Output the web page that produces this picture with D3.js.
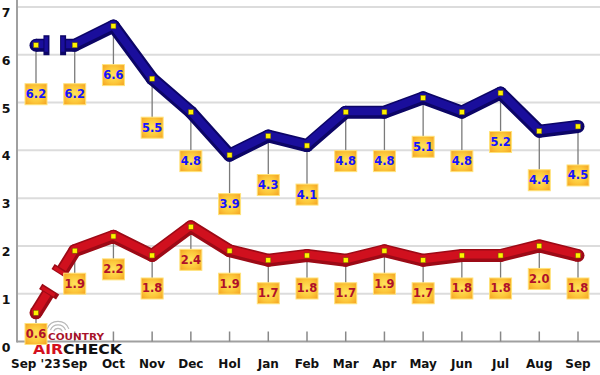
<!DOCTYPE html>
<html>
<head>
<meta charset="utf-8">
<script src="https://cdn.jsdelivr.net/npm/d3@7"></script>
<style>
  body { margin: 0; background: #fff; }
  svg { display: block; }
  .axis-label { font-family: "DejaVu Sans", sans-serif; font-weight: bold; fill: #111; }
  .val { font-family: "DejaVu Sans", sans-serif; font-weight: bold; font-size: 11.5px; }
</style>
</head>
<body>
<div id="chart"></div>
<script>
// months on the x axis
var months = ["Sep '23", "Sep", "Oct", "Nov", "Dec", "Hol", "Jan", "Feb", "Mar", "Apr", "May", "Jun", "Jul", "Aug", "Sep"];
// upper (blue) series
var blueValues = [6.2, 6.2, 6.6, 5.5, 4.8, 3.9, 4.3, 4.1, 4.8, 4.8, 5.1, 4.8, 5.2, 4.4, 4.5];
// lower (red) series
var redValues = [0.6, 1.9, 2.2, 1.8, 2.4, 1.9, 1.7, 1.8, 1.7, 1.9, 1.7, 1.8, 1.8, 2.0, 1.8];
// y axis ticks
var yTicks = [0, 1, 2, 3, 4, 5, 6, 7];

var width = 600, height = 375;

var svg = d3.select("#chart").append("svg")
  .attr("width", width)
  .attr("height", height);

var defs = svg.append("defs");
var grad = defs.append("radialGradient").attr("id", "boxGrad")
  .attr("cx", "50%").attr("cy", "50%").attr("r", "70%");
grad.append("stop").attr("offset", "0%").attr("stop-color", "#ffe45c");
grad.append("stop").attr("offset", "55%").attr("stop-color", "#fcc73a");
grad.append("stop").attr("offset", "100%").attr("stop-color", "#f4a020");

// Scales
var x = d3.scalePoint()
  .domain(d3.range(months.length))
  .range([36, 578]);

var y = d3.scaleLinear()
  .domain([0, 7])
  .range([341.5, 7]);

var axisX = 17;

// Gridlines
svg.append("g").selectAll("line")
  .data(yTicks.filter(function(d){ return d > 0; }))
  .enter().append("line")
  .attr("x1", axisX).attr("x2", width)
  .attr("y1", function(d){ return y(d); })
  .attr("y2", function(d){ return y(d); })
  .attr("stroke", "#dcdcdc")
  .attr("stroke-width", 2);

// y labels (sit a little below their gridline, as in the original)
svg.append("g").selectAll("text")
  .data(yTicks)
  .enter().append("text")
  .attr("class", "axis-label")
  .attr("x", 6)
  .attr("y", function(d){ return y(d) + 10; })
  .attr("text-anchor", "middle")
  .attr("font-size", 12.5)
  .text(function(d){ return d; });

// Axes lines
svg.append("line")
  .attr("x1", axisX).attr("x2", axisX)
  .attr("y1", 0).attr("y2", y(0) + 1)
  .attr("stroke", "#a0a0a0").attr("stroke-width", 2);
svg.append("line")
  .attr("x1", axisX).attr("x2", width)
  .attr("y1", y(0)).attr("y2", y(0))
  .attr("stroke", "#a0a0a0").attr("stroke-width", 2);

// ticks pointing up from the x axis
svg.append("g").selectAll("line")
  .data(d3.range(months.length))
  .enter().append("line")
  .attr("x1", function(i){ return x(i); })
  .attr("x2", function(i){ return x(i); })
  .attr("y1", y(0) - 10).attr("y2", y(0))
  .attr("stroke", "#888").attr("stroke-width", 1.5);

// x labels
svg.append("g").selectAll("text")
  .data(months)
  .enter().append("text")
  .attr("class", "axis-label")
  .attr("x", function(d, i){ return x(i); })
  .attr("y", 368)
  .attr("text-anchor", "middle")
  .attr("font-size", 12)
  .text(function(d){ return d; });

var series = [
  {values: blueValues, dark: "#0c0566", light: "#1a0e9c", text: "#1414ff", offset: 49, breakAt: [0.27, 0.70]},
  {values: redValues,  dark: "#9c0a16", light: "#d0101e", text: "#b0102a", offset: 33, breakAt: [0.34, 0.66]}
];

var line = d3.line()
  .x(function(d){ return d[0]; })
  .y(function(d){ return d[1]; });

// leader lines first so the ribbons cover their tops
series.forEach(function(s){
  svg.append("g").selectAll("line")
    .data(s.values)
    .enter().append("line")
    .attr("x1", function(d, i){ return x(i); })
    .attr("x2", function(d, i){ return x(i); })
    .attr("y1", function(d){ return y(d); })
    .attr("y2", function(d){ return Math.min(y(d) + s.offset, 334) - 10; })
    .attr("stroke", "#7a7a7a")
    .attr("stroke-width", 1.3);
});

function drawSeries(s){
  var pts = s.values.map(function(d, i){ return [x(i), y(d)]; });
  var p0 = pts[0], p1 = pts[1];
  var lerp = function(t){ return [p0[0] + (p1[0] - p0[0]) * t, p0[1] + (p1[1] - p0[1]) * t]; };
  var a = lerp(s.breakAt[0]), b = lerp(s.breakAt[1]);
  var angle = Math.atan2(p1[1] - p0[1], p1[0] - p0[0]) * 180 / Math.PI;

  var g = svg.append("g");
  var paths = [[p0, a], [b].concat(pts.slice(1))];

  // dark body
  paths.forEach(function(p){
    g.append("path").attr("d", line(p))
      .attr("fill", "none")
      .attr("stroke", s.dark)
      .attr("stroke-width", 13)
      .attr("stroke-linejoin", "round");
  });
  g.selectAll("circle.node").data(pts).enter().append("circle")
    .attr("cx", function(d){ return d[0]; })
    .attr("cy", function(d){ return d[1]; })
    .attr("r", 6.5)
    .attr("fill", s.dark);
  // lighter band through the middle, nudged up a bit
  paths.forEach(function(p){
    g.append("path").attr("d", line(p))
      .attr("transform", "translate(-0.3,-1)")
      .attr("fill", "none")
      .attr("stroke", s.light)
      .attr("stroke-width", 8)
      .attr("stroke-linejoin", "round");
  });
  g.selectAll("circle.hi").data(pts).enter().append("circle")
    .attr("cx", function(d){ return d[0] - 0.3; })
    .attr("cy", function(d){ return d[1] - 1; })
    .attr("r", 4)
    .attr("fill", s.light);

  // break caps
  [a, b].forEach(function(c){
    g.append("rect")
      .attr("x", -3).attr("y", -10)
      .attr("width", 6).attr("height", 20)
      .attr("transform", "translate(" + c[0] + "," + c[1] + ")rotate(" + angle + ")")
      .attr("fill", s.dark);
    g.append("rect")
      .attr("x", -2).attr("y", -8.5)
      .attr("width", 3.5).attr("height", 15)
      .attr("transform", "translate(" + c[0] + "," + c[1] + ")rotate(" + angle + ")")
      .attr("fill", s.light);
  });

  // yellow square markers
  g.selectAll("rect.mark").data(pts).enter().append("rect")
    .attr("x", function(d){ return d[0] - 2.5; })
    .attr("y", function(d){ return d[1] - 2.5; })
    .attr("width", 5).attr("height", 5)
    .attr("fill", "#fff200")
    .attr("stroke", "#6a5a00")
    .attr("stroke-width", 0.5);
}

series.forEach(drawSeries);

// Country Aircheck logo (under the value boxes, as in the original)
var logo = svg.append("g");
[4, 7.5, 11].forEach(function(r){
  logo.append("path")
    .attr("d", d3.arc()({innerRadius: r, outerRadius: r + 1.2, startAngle: -Math.PI / 2.6, endAngle: Math.PI / 2.6}))
    .attr("transform", "translate(58,333)")
    .attr("fill", "#b8b8b8");
});
logo.append("text")
  .attr("x", 48).attr("y", 339.5)
  .attr("font-family", "DejaVu Sans, sans-serif")
  .attr("font-weight", "bold")
  .attr("font-size", 8)
  .attr("fill", "#a8122a")
  .attr("textLength", 56)
  .attr("lengthAdjust", "spacingAndGlyphs")
  .text("COUNTRY");
var air = logo.append("text")
  .attr("x", 33).attr("y", 354)
  .attr("font-family", "DejaVu Sans, sans-serif")
  .attr("font-weight", "bold")
  .attr("font-size", 14.5)
  .attr("textLength", 89)
  .attr("lengthAdjust", "spacingAndGlyphs");
air.append("tspan").attr("fill", "#d4101e").text("AIR");
air.append("tspan").attr("fill", "#111").text("CHECK");

// value boxes
series.forEach(function(s){
  var lab = svg.append("g").selectAll("g")
    .data(s.values)
    .enter().append("g")
    .attr("transform", function(d, i){
      var cy = Math.min(y(d) + s.offset, 334);
      return "translate(" + x(i) + "," + cy + ")";
    });
  lab.append("rect")
    .attr("x", -11).attr("y", -10.5)
    .attr("width", 22).attr("height", 21)
    .attr("fill", "url(#boxGrad)")
    .attr("stroke", "#ffe37a")
    .attr("stroke-width", 1);
  lab.append("text")
    .attr("class", "val")
    .attr("text-anchor", "middle")
    .attr("y", 4)
    .attr("fill", s.text)
    .text(function(d){ return d.toFixed(1); });
});
</script>
</body>
</html>
